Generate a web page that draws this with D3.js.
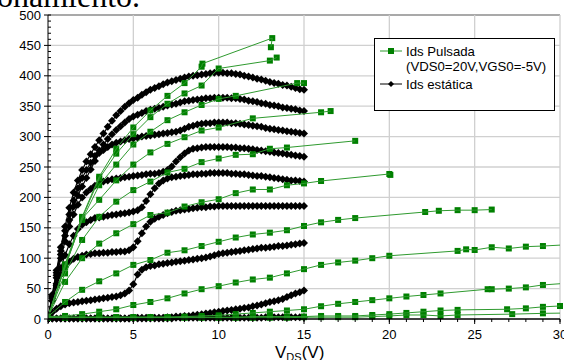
<!DOCTYPE html>
<html><head><meta charset="utf-8">
<script src="https://cdn.jsdelivr.net/npm/d3@7"></script>
<style>
html,body{margin:0;padding:0;background:#fff;overflow:hidden}
svg{display:block}
</style></head><body>
<svg id="c" width="564" height="360"></svg>
<script>
// ---------------- DATA ----------------
const vdsStatic = [0,0.25,0.5,0.75,1,1.25,1.5,1.75,2,2.25,2.5,2.75,3,3.25,3.5,3.75,4,4.25,4.5,4.75,5,5.25,5.5,5.75,6,6.25,6.5,6.75,7,7.25,7.5,7.75,8,8.25,8.5,8.75,9,9.25,9.5,9.75,10,10.25,10.5,10.75,11,11.25,11.5,11.75,12,12.25,12.5,12.75,13,13.25,13.5,13.75,14,14.25,14.5,14.75,15];
const staticA = [0,40,80,118,152,183,208,228,245,259,271,283,294,305,316,326,335,342,349,355,360,364,369,373,377,380,383,386,389,391,393,395,397,399,400,401,402,403,404,405,405,405,404,404,403,402,400,399,397,395,394,392,390,388,387,385,384,382,380,378,377];
const staticB = [0,38,76,112,145,172,195,215,232,245,257,268,277,287,296,304,311,317,323,329,333,336,339,342,344,346,347,349,351,353,354,356,358,359,360,361,362,363,363,364,364,364,364,363,363,362,361,359,358,357,355,354,352,351,350,348,347,346,345,343,342];
const staticC = [0,36,72,106,137,163,185,203,218,232,246,260,273,278,283,287,290,292,294,296,297,298,300,301,302,303,304,305,306,307,308,310,313,316,318,320,321,322,322,323,323,323,323,322,322,321,320,319,318,317,316,314,313,312,311,310,309,308,307,306,305];
const staticD = [0,34,68,100,128,152,172,188,200,208,214,219,223,226,228,230,231,232,233,234,235,236,237,238,239,239,240,242,245,251,259,266,272,277,280,281,282,283,283,283,283,283,283,282,282,281,281,280,279,278,277,276,275,274,273,272,271,270,269,268,267];
const staticE = [0,30,58,84,105,123,137,148,155,159,163,166,167,168,170,171,172,173,174,175,177,179,184,194,205,215,223,228,231,233,234,235,236,237,238,238,239,239,240,240,240,240,240,239,239,238,238,237,236,235,235,234,233,232,231,230,229,228,228,227,226];
const staticF = [0,30,55,73,86,94,99,102,104,106,107,108,108,109,109,110,110,111,111,113,118,128,141,152,160,165,168,171,174,176,178,179,180,181,182,183,184,184,185,185,186,186,186,186,186,186,186,186,186,186,186,186,186,186,186,186,186,186,186,186,186];
const staticG = [0,11,17,21,24,26,27,28,29,30,31,32,33,34,35,36,37,39,42,47,57,73,81,85,87,88,90,91,92,93,94,95,96,97,98,99,100,101,103,105,107,108,109,110,111,112,113,114,115,116,117,117,118,119,120,120,121,122,123,124,125];
const staticH = [0,1,1,1,1,1,1,1,1,1,1,1,1,1,1,1,1,1,1,1,2,2,2,2,2,2,2,2,3,3,4,4,5,5,6,7,8,9,10,11,12,13,14,15,16,17,18,19,21,22,24,26,28,29,31,33,36,39,42,44,47];
const staticI = [0,1,1,1,1,1,1,1,1,1,1,1,1,1,1,1,1,1,1,1,1,1,1,1,1,1,1,1,1,1,2,2,2,2,2,2,2,2,2,2,2,2,2,2,2,2,2,2,2,2,2,3,3,3,3,3,3,3,3,3,3];

const pulsedQ1 = [[0,4],[1,90],[2,168],[3,234],[4,280],[5,315],[6,343],[7,367],[8,388],[9,415],[9.05,420],[13.14,462],[13.06,447]];
const pulsedQ2 = [[0,4],[1,88],[2,166],[3,231],[4,272],[5,304],[6,332],[7,354],[8,371],[9,384],[10,412],[13,425],[13.4,430]];
const pulsedQ3 = [[0,4],[1,86],[2,163],[3,220],[4,254],[5,287],[6,308],[7,327],[8,340],[9,352],[10,362],[11,367],[14.6,388],[15,388]];
const pulsedQ4 = [[0,4],[1,85],[2,165],[3,196],[4,228],[5,254],[6,274],[7,288],[8,299],[9,310],[10,315],[12,330],[16,340],[16.56,342]];
const pulsedQ5 = [[0,4],[1,75],[2,130],[3,168],[4,193],[5,212],[6,226],[7,241],[8,247],[9,258],[10,264],[11,270],[12,271],[13,280],[14,282],[18,293]];
const pulsedQ6 = [[0,4],[1,61],[2,100],[3,124],[4,141],[5,156],[6,171],[7,175],[8,185],[9,192],[10,197],[11,207],[12,213],[13,213],[14,220],[15,223],[16,227],[20,238.5],[20.06,237]];
const pulsedQ7 = [[0,4],[1,28],[2,48],[3,62],[4,75],[5,89],[6,97],[7,109],[8,113],[9,120],[10,127],[11,134],[12,139],[13,142],[14,146],[15,153],[16,159],[17,163],[18,166],[22.1,176],[22.9,178],[24,179],[25,179],[26,180]];
const pulsedQ8 = [[0,4],[1,5],[2,8],[3,12],[4,16],[5,23],[6,28],[7,34],[8,42],[9,49],[10,54],[11,60],[12,65],[13,68],[14,75],[15,82],[16,89],[17,93],[18,96],[19,100],[20,104],[24,112],[24.5,114.6],[25,113.5],[26,118],[27,116],[28,119],[29,120],[31,123]];
const pulsedQ9 = [[0,3],[1,3],[2,3],[3,3],[4,3],[5,3],[6,3],[7,3],[8,4],[9,5],[10,6],[11,8],[12,10],[13,12],[14,14],[15,16],[16,21],[17,25],[18,28],[19,31],[20,34],[21,37],[22,39.5],[23,42],[25.76,49],[26,49],[27,50],[28,52],[29,56],[31,60]];
const pulsedQ10 = [[0,3],[1,3],[2,3],[3,3],[4,3],[5,3],[6,3],[7,3],[8,3],[9,3],[10,3],[11,3],[12,4],[13,4],[14,4],[15,4],[16,5],[17,5],[18,5],[19,6.6],[20,8],[21,10],[22,12],[23,14],[24,15],[26.9,16],[28,17.5],[29,20],[30,21.4]];
const pulsedQ11 = [[0,2],[1,2],[2,2],[3,2],[4,2],[5,2],[6,2],[7,2],[8,2],[9,2],[10,2],[11,2],[12,2],[13,2],[14,2],[15,3],[16,3],[17,3],[18,3],[19,4],[20,5],[21,6.6],[22,6.6],[23,5],[24,6.6],[27.2,8],[29,9.3],[31,10]];

const xTicks = [0,5,10,15,20,25,30];
const yTicks = [0,50,100,150,200,250,300,350,400,450,500];
const legendLabels = ["Ids Pulsada", "(VDS0=20V,VGS0=-5V)", "Ids estática"];
const headingText = "onamiento.";

// ---------------- DRAW ----------------
const staticSeries = [staticA, staticB, staticC, staticD, staticE, staticF, staticG, staticH, staticI];
const pulsedSeries = [pulsedQ1, pulsedQ2, pulsedQ3, pulsedQ4, pulsedQ5, pulsedQ6, pulsedQ7, pulsedQ8, pulsedQ9, pulsedQ10, pulsedQ11];

const svg = d3.select("#c");
const X0 = 48, X1 = 560, Y0 = 319, Y1 = 15;
const x = d3.scaleLinear().domain([0, 30]).range([X0, X1]);
const y = d3.scaleLinear().domain([0, 500]).range([Y0, Y1]);
const FONT = "'Liberation Sans', Arial, sans-serif";
const GREEN = "#008000", GREENLINE = "#2f9a2f";

svg.append("rect").attr("width", 564).attr("height", 360).attr("fill", "#fff");

// heading text (cut off document text)
svg.append("text").attr("x", -3).attr("y", 7)
  .attr("font-family", "'Liberation Serif', 'Times New Roman', serif")
  .attr("font-size", 32).attr("fill", "#000").text(headingText);

// gridlines
const grid = svg.append("g");
grid.selectAll("line.h").data(yTicks.filter(d => d > 0)).join("line")
  .attr("x1", X0).attr("x2", X1).attr("y1", d => y(d)).attr("y2", d => y(d))
  .attr("stroke", d => d === 500 ? "#8c8c8c" : "#d0d0d0").attr("stroke-width", 1.3);
grid.selectAll("line.v").data(xTicks.filter(d => d > 0)).join("line")
  .attr("y1", Y1).attr("y2", Y0).attr("x1", d => x(d)).attr("x2", d => x(d))
  .attr("stroke", "#d0d0d0").attr("stroke-width", 1.3);

svg.append("clipPath").attr("id", "clip").append("rect")
  .attr("x", X0).attr("y", Y1 - 4).attr("width", X1 - X0 + 6).attr("height", Y0 - Y1 + 8);
svg.append("clipPath").attr("id", "clipL").append("rect")
  .attr("x", X0).attr("y", Y1).attr("width", X1 - X0).attr("height", Y0 - Y1);

const plot = svg.append("g").attr("clip-path", "url(#clip)");
const line = d3.line().x(d => x(d[0])).y(d => y(d[1]));

// static curves
staticSeries.forEach(s => {
  const pts = vdsStatic.map((v, i) => [v, s[i]]);
  plot.append("path").attr("d", line(pts)).attr("fill", "none")
    .attr("stroke", "#000").attr("stroke-width", 1.2);
  plot.selectAll(null).data(pts).join("path")
    .attr("transform", d => `translate(${x(d[0])},${y(d[1])})`)
    .attr("d", "M0,-4L4,0L0,4L-4,0Z").attr("fill", "#000");
});

// pulsed curves
const plotL = svg.append("g").attr("clip-path", "url(#clipL)");
pulsedSeries.forEach(s => {
  plotL.append("path").attr("d", line(s)).attr("fill", "none")
    .attr("stroke", GREENLINE).attr("stroke-width", 1);
});
pulsedSeries.forEach(s => {
  plot.selectAll(null).data(s.filter(d => d[0] <= 30)).join("rect")
    .attr("x", d => x(d[0]) - 3).attr("y", d => y(d[1]) - 3)
    .attr("width", 6).attr("height", 6).attr("fill", GREEN);
});

// axes
const yAxis = svg.append("g");
yAxis.append("line").attr("x1", X0).attr("x2", X0).attr("y1", Y1).attr("y2", Y0).attr("stroke", "#000");
const yMinor = d3.range(0, 501, 10);
yAxis.selectAll("line.mi").data(yMinor).join("line")
  .attr("x1", X0).attr("x2", X0 + 3).attr("y1", d => y(d)).attr("y2", d => y(d)).attr("stroke", "#000");
yAxis.selectAll("line.ma").data(yTicks).join("line")
  .attr("x1", X0 - 4).attr("x2", X0).attr("y1", d => y(d)).attr("y2", d => y(d)).attr("stroke", "#000");
yAxis.selectAll("text").data(yTicks).join("text")
  .attr("x", X0 - 7).attr("y", d => y(d) + 4.5).attr("text-anchor", "end")
  .attr("font-family", FONT).attr("font-size", 13).text(d => d);

const xAxis = svg.append("g");
xAxis.append("line").attr("x1", X0).attr("x2", X1).attr("y1", Y0).attr("y2", Y0).attr("stroke", "#000").attr("stroke-width", 1.3);
xAxis.selectAll("line.mi").data(d3.range(0, 31, 1)).join("line")
  .attr("x1", d => x(d)).attr("x2", d => x(d)).attr("y1", Y0).attr("y2", Y0 + 3).attr("stroke", "#000");
xAxis.selectAll("line.ma").data(xTicks).join("line")
  .attr("x1", d => x(d)).attr("x2", d => x(d)).attr("y1", Y0).attr("y2", Y0 + 5).attr("stroke", "#000");
xAxis.selectAll("text").data(xTicks).join("text")
  .attr("x", d => x(d)).attr("y", Y0 + 20).attr("text-anchor", "middle")
  .attr("font-family", FONT).attr("font-size", 13).text(d => d);

// x axis title
const xt = svg.append("text").attr("x", 275).attr("y", 358).attr("font-family", FONT).attr("font-size", 17);
xt.append("tspan").text("V");
xt.append("tspan").attr("font-size", 11).attr("dy", 3).text("DS");
xt.append("tspan").attr("dy", -3).text("(V)");

// legend
const lg = svg.append("g");
lg.append("rect").attr("x", 374.5).attr("y", 38.5).attr("width", 180).attr("height", 72)
  .attr("fill", "#fff").attr("stroke", "#000").attr("stroke-width", 1);
lg.append("line").attr("x1", 380).attr("x2", 402).attr("y1", 51).attr("y2", 51).attr("stroke", GREENLINE);
lg.append("rect").attr("x", 388).attr("y", 48).attr("width", 6).attr("height", 6).attr("fill", GREEN);
lg.append("line").attr("x1", 380).attr("x2", 402).attr("y1", 84).attr("y2", 84).attr("stroke", "#000");
lg.append("path").attr("transform", "translate(391,84)").attr("d", "M0,-3L3,0L0,3L-3,0Z").attr("fill", "#000");
lg.selectAll("text").data(legendLabels).join("text")
  .attr("x", 406).attr("y", (d, i) => [56, 71, 89][i])
  .attr("font-family", FONT).attr("font-size", 13.2).text(d => d);
</script>
</body></html>
